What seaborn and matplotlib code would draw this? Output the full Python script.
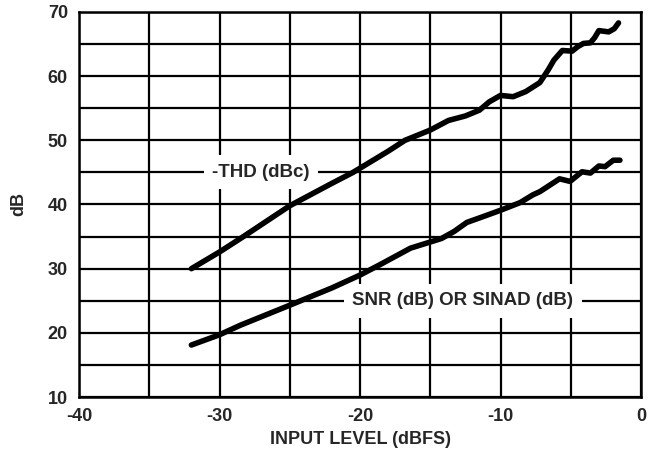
import matplotlib
matplotlib.use("Agg")
import matplotlib.pyplot as plt
import seaborn as sns
import pandas as pd
import numpy as np

# ---- data ----
thd_x = [-32, -30, -28.3, -25, -22, -20.5, -18, -16.8, -15, -13.7, -12.5, -11.5,
         -10.8, -10, -9.1, -8.2, -7.2, -6.6, -6.2, -5.6, -4.9, -4.5, -4.1, -3.6,
         -3.3, -3.0, -2.3, -1.9, -1.6]
thd_y = [30, 32.6, 35, 39.8, 43.3, 45, 48.3, 50, 51.6, 53.1, 53.8, 54.7,
         56.0, 57.0, 56.8, 57.6, 59.0, 61.0, 62.5, 64.0, 63.9, 64.6, 65.1, 65.2,
         66.0, 67.1, 66.9, 67.4, 68.3]

snr_x = [-32, -30, -28.5, -25, -22, -20, -18.6, -16.4, -14.2, -13.3, -12.4, -11,
         -10, -8.6, -7.7, -7.2, -5.8, -5.05, -4.2, -3.6, -3.0, -2.56, -1.97, -1.5]
snr_y = [18.1, 19.7, 21.2, 24.3, 27.0, 29.0, 30.6, 33.2, 34.7, 35.8, 37.2, 38.3,
         39.1, 40.3, 41.5, 42.0, 44.0, 43.6, 45.1, 44.9, 46.0, 45.9, 46.9, 46.9]

x_ticks = [-40, -30, -20, -10, 0]
x_tick_labels = ["-40", "-30", "-20", "-10", "0"]
y_ticks = [10, 20, 30, 40, 50, 60, 70]
grid_x = [-40, -35, -30, -25, -20, -15, -10, -5, 0]
grid_y = [10, 15, 20, 25, 30, 35, 40, 45, 50, 55, 60, 65, 70]

thd_label = "-THD (dBc)"
snr_label = "SNR (dB) OR SINAD (dB)"
x_label = "INPUT LEVEL (dBFS)"
y_label = "dB"

# ---- plotting ----
sns.set_theme(style="white")
plt.rcParams["font.family"] = ["Liberation Sans", "DejaVu Sans"]
plt.rcParams["font.weight"] = "bold"

FS = 13

fig = plt.figure(figsize=(6.6, 4.51), dpi=100)
ax = fig.add_axes([79 / 660, 1 - 397 / 451, 562 / 660, 385 / 451])

for gx in grid_x:
    ax.axvline(gx, color="black", lw=1.6, zorder=1)
for gy in grid_y:
    ax.axhline(gy, color="black", lw=1.6, zorder=1)

df_thd = pd.DataFrame({"x": thd_x, "y": thd_y})
df_snr = pd.DataFrame({"x": snr_x, "y": snr_y})
sns.lineplot(data=df_thd, x="x", y="y", ax=ax, color="black", lw=4.0,
             sort=False, estimator=None, zorder=3)
sns.lineplot(data=df_snr, x="x", y="y", ax=ax, color="black", lw=4.0,
             sort=False, estimator=None, zorder=3)

ax.set_xlim(-40, 0)
ax.set_ylim(10, 70)
ax.set_xticks(x_ticks)
ax.set_xticklabels(x_tick_labels)
ax.set_yticks(y_ticks)
ax.tick_params(axis="both", length=0, labelsize=FS)
ax.tick_params(axis="x", pad=8)
ax.tick_params(axis="y", pad=8)
for lab in ax.get_xticklabels() + ax.get_yticklabels():
    lab.set_fontweight("bold")

for sp in ax.spines.values():
    sp.set_color("black")
    sp.set_linewidth(1.8)
    sp.set_zorder(4)

ax.set_xlabel(x_label, fontsize=FS, fontweight="bold", labelpad=4)
ax.set_ylabel(y_label, fontsize=FS, fontweight="bold", labelpad=15)

bbox = dict(boxstyle="square,pad=0.45", fc="white", ec="none")
ax.text(-27.05, 45, thd_label, ha="center", va="center", fontsize=13.5,
        fontweight="bold", bbox=bbox, zorder=2)
ax.text(-12.67, 25, snr_label, ha="center", va="center", fontsize=13.5,
        fontweight="bold", bbox=bbox, zorder=2)

fig.savefig("out.png", dpi=100)
